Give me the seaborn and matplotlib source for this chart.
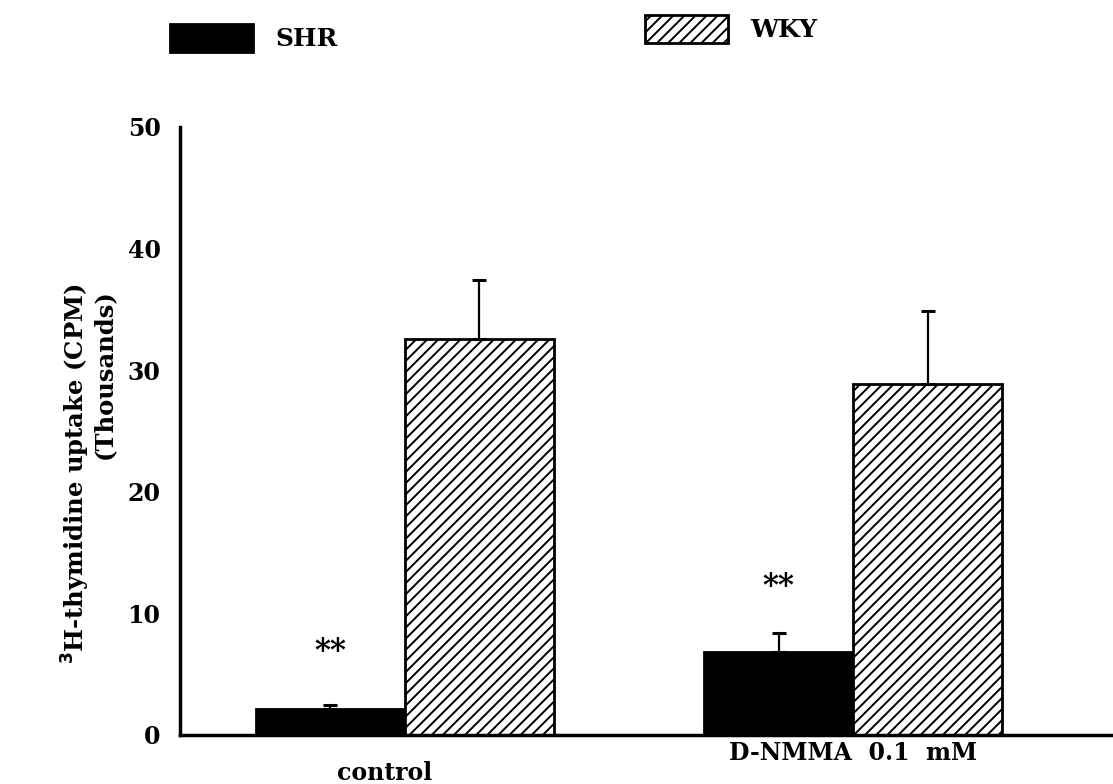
import numpy as np
import pandas as pd
import matplotlib
matplotlib.use("Agg")
import matplotlib.pyplot as plt
import matplotlib.transforms as mtransforms
import seaborn as sns

# Data (thousands of CPM)
treatments = ["control", "D-NMMA  0.1  mM"]
strains = ["SHR", "WKY"]
shr_mean = [2.1, 6.8]
shr_sem = [0.4, 1.6]
wky_mean = [32.6, 28.9]
wky_sem = [4.8, 6.0]
star_y = [6.9, 12.2]
yticks = [0, 10, 20, 30, 40, 50]

df = pd.DataFrame({
    "treatment": treatments * 2,
    "strain": ["SHR"] * 2 + ["WKY"] * 2,
    "cpm": shr_mean + wky_mean,
})

sns.set_style("white")
plt.rcParams["font.family"] = ["DejaVu Serif"]
plt.rcParams["font.weight"] = "bold"
plt.rcParams["hatch.linewidth"] = 1.4
for key in ["text.color", "axes.labelcolor", "xtick.color", "ytick.color"]:
    plt.rcParams[key] = "black"

fig = plt.figure(figsize=(11.13, 7.84), dpi=100)
ax = fig.add_axes([180 / 1113, 49 / 784, 1 - 180 / 1113, 608 / 784])

sns.barplot(data=df, x="treatment", y="cpm", hue="strain", order=treatments,
            hue_order=strains, palette=["black", "white"], width=0.665,
            edgecolor="black", linewidth=2, errorbar=None, legend=False,
            saturation=1, ax=ax)

for bar in ax.containers[1]:
    bar.set_hatch("///")

# one-sided (upper) error bars at bar centres
for cont, err in zip(ax.containers, [shr_sem, wky_sem]):
    xs = [b.get_x() + b.get_width() / 2 for b in cont]
    ys = [b.get_height() for b in cont]
    ax.errorbar(xs, ys, yerr=[np.zeros(len(err)), err], fmt="none",
                ecolor="black", elinewidth=1.6, capsize=5, capthick=2.2, zorder=1)

# significance marks above SHR bars
for b, sy in zip(ax.containers[0], star_y):
    ax.text(b.get_x() + b.get_width() / 2, sy, "**", ha="center", va="center",
            fontsize=22, fontweight="bold")

ax.set_ylim(0, 50)
ax.set_xlim(-0.502, 1.58)
ax.set_yticks(yticks)
ax.set_yticklabels([str(t) for t in yticks], fontsize=17, fontweight="bold")
ax.tick_params(axis="y", direction="in", length=9, width=2, pad=14)
ax.tick_params(axis="x", length=0, pad=4, labelsize=17)
ax.set_xticks([0, 1])
ax.set_xticklabels(treatments, fontweight="bold")

ax.set_xlabel("")
ax.set_ylabel("")
sns.despine(ax=ax)
for side in ["left", "bottom"]:
    ax.spines[side].set_linewidth(2.5)
    ax.spines[side].set_color("black")

# the control label sits lower and slightly left of its group
lbl = ax.get_xticklabels()
lbl[0].set_transform(lbl[0].get_transform() +
                     mtransforms.ScaledTranslation(-0.2, -0.2, fig.dpi_scale_trans))

# y-axis title, two lines aligned at their ends
fig.text(76 / 1113, 1 - 284 / 784, r"$\mathbf{^3}$H-thymidine uptake (CPM)",
         rotation=90, ha="center", va="top", fontsize=17.5, fontweight="bold")
fig.text(104 / 1113, 1 - 289 / 784, "(Thousands)", rotation=90, ha="center",
         va="top", fontsize=17.5, fontweight="bold")

# legend keys placed separately
h0 = ax.containers[0][0]
h1 = ax.containers[1][0]
fig.legend([h0], ["SHR"], loc="center left",
           bbox_to_anchor=(170 / 1113, 1 - 38 / 784), frameon=False,
           fontsize=18, handlelength=3.3, handleheight=1.35,
           handletextpad=0.9, borderpad=0, borderaxespad=0)
fig.legend([h1], ["WKY"], loc="center left",
           bbox_to_anchor=(645 / 1113, 1 - 29 / 784), frameon=False,
           fontsize=18, handlelength=3.3, handleheight=1.35,
           handletextpad=0.9, borderpad=0, borderaxespad=0)

fig.savefig("out.png", dpi=100)
